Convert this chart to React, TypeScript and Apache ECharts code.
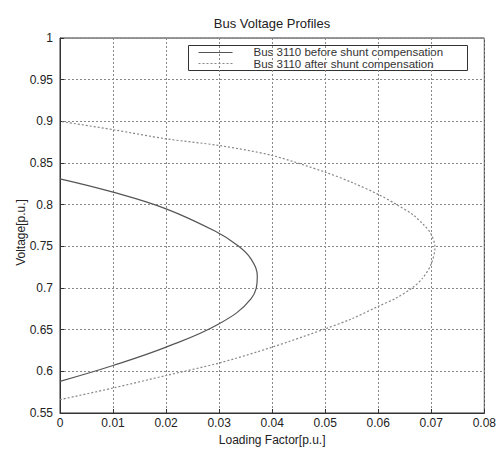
import React, { useEffect, useRef } from "react";
import * as echarts from "echarts";

const titleText = "Bus Voltage Profiles";
const xAxisName = "Loading Factor[p.u.]";
const yAxisName = "Voltage[p.u.]";
const seriesNames = [
  "Bus 3110 before shunt compensation",
  "Bus 3110 after shunt compensation",
];

// Solid curve: traced from the lower branch (x=0) through the nose to the upper branch
const beforeX = [0, 0.01, 0.02, 0.03, 0.036, 0.0372, 0.036, 0.0335, 0.0293, 0.02, 0.01, 0];
const beforeY = [0.588, 0.607, 0.629, 0.657, 0.687, 0.714, 0.735, 0.751, 0.768, 0.795, 0.815, 0.831];

// Dotted curve
const afterX = [0, 0.01, 0.02, 0.03, 0.04, 0.05, 0.055, 0.06, 0.0634, 0.0664, 0.0684, 0.07, 0.0707, 0.0699, 0.0686, 0.0665, 0.0635, 0.06, 0.0553, 0.05, 0.04, 0.03, 0.02, 0.01, 0];
const afterY = [0.566, 0.58, 0.595, 0.61, 0.629, 0.651, 0.663, 0.678, 0.688, 0.7, 0.712, 0.729, 0.749, 0.7655, 0.7756, 0.788, 0.8, 0.8123, 0.826, 0.839, 0.859, 0.871, 0.879, 0.89, 0.9];

const xTicks = ["0", "0.01", "0.02", "0.03", "0.04", "0.05", "0.06", "0.07", "0.08"];
const yTicks = ["0.55", "0.6", "0.65", "0.7", "0.75", "0.8", "0.85", "0.9", "0.95", "1"];

const FONT = "Liberation Sans, Arial, sans-serif";
const SOLID_COLOR = "#555";
const DOT_COLOR = "#888";

export default function App() {
  const ref = useRef<HTMLDivElement>(null);

  useEffect(() => {
    if (!ref.current) return;
    const chart = echarts.init(ref.current, undefined, { renderer: "svg" });
    const pair = (xs: number[], ys: number[]) => xs.map((x, i) => [x, ys[i]]);
    const gridLine = { show: true, lineStyle: { color: "#888", type: [2, 2] as any, width: 1 } };
    chart.setOption({
      animation: false,
      backgroundColor: "#ffffff",
      textStyle: { fontFamily: FONT },
      title: {
        text: titleText,
        left: 267,
        textAlign: "center",
        top: 12,
        textStyle: { fontSize: 13, fontWeight: "normal", color: "#222", fontFamily: FONT },
      },
      grid: {
        left: 60,
        right: 14,
        top: 38,
        bottom: 42,
        show: true,
        borderColor: "#333",
        borderWidth: 1,
        backgroundColor: "#ffffff",
      },
      xAxis: {
        type: "value",
        min: 0,
        max: 0.08,
        interval: 0.01,
        name: xAxisName,
        nameLocation: "middle",
        nameGap: 7,
        nameTextStyle: { fontSize: 12, color: "#222", fontFamily: FONT },
        axisLine: { show: true, lineStyle: { color: "#333" } },
        axisTick: { show: true, inside: true, length: 4, lineStyle: { color: "#333" } },
        axisLabel: {
          margin: 4,
          fontSize: 12,
          color: "#222",
          fontFamily: FONT,
          formatter: (v: number) => xTicks[Math.round(v / 0.01)] ?? "",
        },
        splitLine: gridLine,
      },
      yAxis: {
        type: "value",
        min: 0.55,
        max: 1,
        interval: 0.05,
        name: yAxisName,
        nameLocation: "middle",
        nameGap: 33,
        nameMoveOverlap: false,
        nameTextStyle: { fontSize: 12, color: "#222", fontFamily: FONT, padding: [0, 14, 0, 0] },
        axisLine: { show: true, lineStyle: { color: "#333" } },
        axisTick: { show: true, inside: true, length: 4, lineStyle: { color: "#333" } },
        axisLabel: {
          margin: 7,
          fontSize: 12,
          color: "#222",
          fontFamily: FONT,
          formatter: (v: number) => yTicks[Math.round((v - 0.55) / 0.05)] ?? "",
        },
        splitLine: gridLine,
      },
      graphic: [
        {
          type: "group",
          left: 188,
          top: 45,
          z: 100,
          children: [
            {
              type: "rect",
              shape: { x: 0, y: 0, width: 279, height: 25 },
              style: { fill: "#fff", stroke: "#333", lineWidth: 1 },
            },
            {
              type: "line",
              shape: { x1: 10, y1: 7, x2: 44, y2: 7 },
              style: { stroke: SOLID_COLOR, lineWidth: 1.2 },
            },
            {
              type: "line",
              shape: { x1: 10, y1: 18, x2: 44, y2: 18 },
              style: { stroke: DOT_COLOR, lineWidth: 1.2, lineDash: [2, 2] },
            },
            {
              type: "text",
              x: 65,
              y: 6.5,
              style: {
                text: seriesNames[0],
                fontSize: 11.5,
                fontFamily: FONT,
                fill: "#333",
                verticalAlign: "middle",
              },
            },
            {
              type: "text",
              x: 65,
              y: 18.5,
              style: {
                text: seriesNames[1],
                fontSize: 11.5,
                fontFamily: FONT,
                fill: "#333",
                verticalAlign: "middle",
              },
            },
          ],
        },
      ],
      series: [
        {
          name: seriesNames[0],
          type: "line",
          data: pair(beforeX, beforeY),
          symbol: "none",
          smooth: 0.4,
          lineStyle: { color: SOLID_COLOR, width: 1.2, type: "solid" },
          itemStyle: { color: SOLID_COLOR },
        },
        {
          name: seriesNames[1],
          type: "line",
          data: pair(afterX, afterY),
          symbol: "none",
          smooth: 0.3,
          lineStyle: { color: DOT_COLOR, width: 1.2, type: [2, 2] },
          itemStyle: { color: DOT_COLOR },
        },
      ],
    });
    return () => chart.dispose();
  }, []);

  return (
    <div
      ref={ref}
      style={{ position: "fixed", left: 0, top: 0, width: 499, height: 455 }}
    />
  );
}
